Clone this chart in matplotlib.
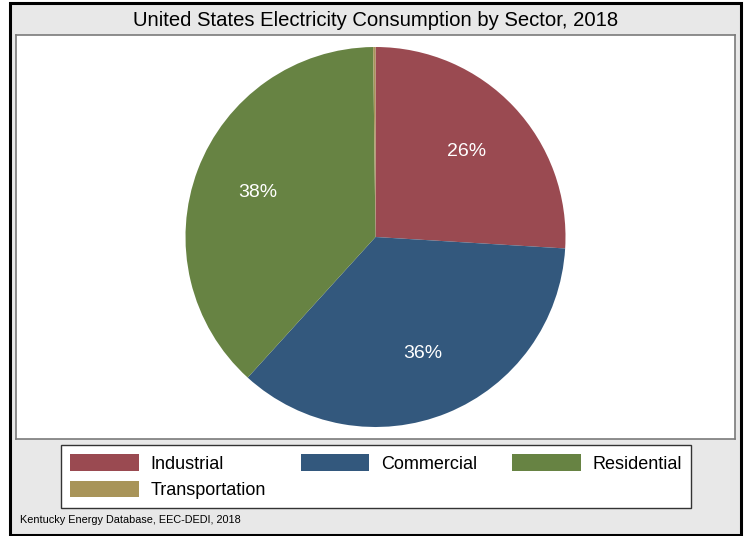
import matplotlib
matplotlib.use("Agg")
from matplotlib import pyplot as plt
from matplotlib.patches import Rectangle

plt.rcParams['font.family'] = ['Liberation Sans', 'DejaVu Sans']

# Consommation d'electricite par secteur, 2018 (TWh)
secteurs = ["Industrial", "Commercial", "Residential", "Transportation"]
consommation = [1002, 1381, 1469, 7.6]
couleurs = ["#9a4a51", "#33587d", "#678343", "#a89459"]

titre = "United States Electricity Consumption by Sector, 2018"
source = "Kentucky Energy Database, EEC-DEDI, 2018"

W, H = 746, 536
fig = plt.figure(figsize=(W / 100, H / 100), dpi=100)
fig.patch.set_facecolor("white")

# cadre gris exterieur
fig.patches.append(Rectangle((10 / W, 1 - 535 / H), 731 / W, 532 / H,
                             transform=fig.transFigure, facecolor="#e8e8e8",
                             edgecolor="black", linewidth=2.2, zorder=-10))

# zone du camembert
gauche, droite, haut, bas = 16, 735, 35, 439
ax = fig.add_axes([gauche / W, 1 - bas / H, (droite - gauche) / W, (bas - haut) / H])


def etiquette(pct):
    if pct < 1:
        return ""
    return "%1.0f%%" % pct


wedges, textes, autotextes = ax.pie(consommation, colors=couleurs, startangle=90,
                                    counterclock=False, autopct=etiquette,
                                    pctdistance=0.66,
                                    wedgeprops=dict(linewidth=0),
                                    textprops=dict(color="white", fontsize=14))

rayon = 190.0
ax.set_aspect("auto")
ax.set_xlim(-(droite - gauche) / 2 / rayon, (droite - gauche) / 2 / rayon)
ax.set_ylim(-(bas - haut) / 2 / rayon, (bas - haut) / 2 / rayon)
ax.set_frame_on(True)
ax.set_facecolor("white")
for s in ax.spines.values():
    s.set_color("#7a7a7a")
    s.set_linewidth(1.2)
ax.set_xticks([])
ax.set_yticks([])

fig.text(376 / W, 1 - 20 / H, titre, ha="center", va="center", fontsize=14.6)

# legende rangee par lignes : Industrial, Commercial, Residential / Transportation
ordre = [0, 3, 1, 2]
leg = fig.legend([wedges[i] for i in ordre], [secteurs[i] for i in ordre],
                 ncol=3, mode="expand", loc="upper left",
                 bbox_to_anchor=(61 / W, 1 - 506 / H, 630 / W, 61 / H),
                 bbox_transform=fig.transFigure, borderaxespad=0,
                 fontsize=13, frameon=True, fancybox=False, framealpha=1,
                 handlelength=3.8, handleheight=1.05, handletextpad=0.65,
                 labelspacing=0.45, borderpad=0.5)
leg.get_frame().set_edgecolor("#333333")
leg.get_frame().set_linewidth(1.0)

fig.text(20 / W, 1 - 520 / H, source, ha="left", va="center", fontsize=7.8)

fig.savefig("out.png", dpi=100)
